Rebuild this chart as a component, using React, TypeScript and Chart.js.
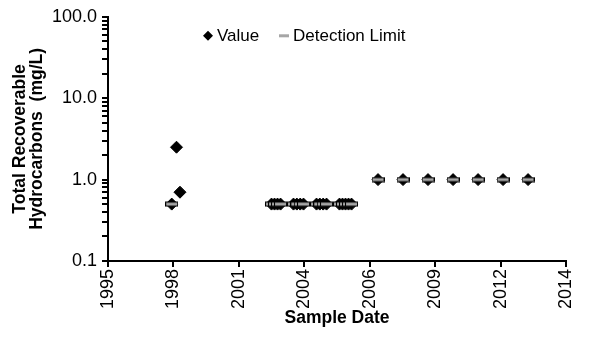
import React, { useEffect, useRef } from 'react';
import { Chart, registerables } from 'chart.js';

Chart.register(...registerables);

// Sample dates as spreadsheet serial day numbers
const valueDates = [
  35974, 36047, 36100,
  37499, 37545, 37591, 37637,
  37835, 37886, 37938, 37988,
  38187, 38237, 38289, 38340,
  38538, 38584, 38630, 38676, 38722,
  39127, 39509, 39891, 40274, 40656, 41038, 41420,
];
const valueMgL = [
  0.5, 2.5, 0.7,
  0.5, 0.5, 0.5, 0.5,
  0.5, 0.5, 0.5, 0.5,
  0.5, 0.5, 0.5, 0.5,
  0.5, 0.5, 0.5, 0.5, 0.5,
  1.0, 1.0, 1.0, 1.0, 1.0, 1.0, 1.0,
];
const detectionDates = [
  35974,
  37499, 37545, 37591, 37637,
  37835, 37886, 37938, 37988,
  38187, 38237, 38289, 38340,
  38538, 38584, 38630, 38676, 38722,
  39127, 39509, 39891, 40274, 40656, 41038, 41420,
];
const detectionMgL = [
  0.5,
  0.5, 0.5, 0.5, 0.5,
  0.5, 0.5, 0.5, 0.5,
  0.5, 0.5, 0.5, 0.5,
  0.5, 0.5, 0.5, 0.5, 0.5,
  1.0, 1.0, 1.0, 1.0, 1.0, 1.0, 1.0,
];
const seriesNames = ['Value', 'Detection Limit'];
const xTickLabels = ['1995', '1998', '2001', '2004', '2006', '2009', '2012', '2014'];
const xMin = 35000;
const xMax = 42000;
const xStep = 1000;
const yTickValues = [0.1, 1, 10, 100];
const yTickLabels = ['0.1', '1.0', '10.0', '100.0'];
const yTitle = ['Total Recoverable', 'Hydrocarbons  (mg/L)'];
const xTitle = 'Sample Date';

const FONT = "'Liberation Sans', Arial, sans-serif";
const GRAY = '#a6a6a6';

function makeDashMarker(): HTMLCanvasElement {
  const c = document.createElement('canvas');
  c.width = 13;
  c.height = 6;
  const g = c.getContext('2d')!;
  g.fillStyle = '#000';
  g.fillRect(0, 0.5, 13, 5);
  g.fillStyle = GRAY;
  g.fillRect(1, 1.5, 11, 3);
  return c;
}

// Outward tick marks at every tick the library's scales generate
const outerTicksPlugin = {
  id: 'outerTicks',
  afterDraw(chart: any) {
    const { ctx, chartArea, scales } = chart;
    ctx.save();
    ctx.strokeStyle = '#000';
    ctx.lineWidth = 2;
    for (const t of scales.y.ticks) {
      const py = Math.round(scales.y.getPixelForValue(t.value));
      ctx.beginPath();
      ctx.moveTo(chartArea.left - 6, py);
      ctx.lineTo(chartArea.left, py);
      ctx.stroke();
    }
    for (const t of scales.x.ticks) {
      const px = Math.round(scales.x.getPixelForValue(t.value));
      ctx.beginPath();
      ctx.moveTo(px, chartArea.bottom);
      ctx.lineTo(px, chartArea.bottom + 6);
      ctx.stroke();
    }
    ctx.restore();
  },
};

const legendPlugin = {
  id: 'insideLegend',
  afterDraw(chart: any) {
    const { ctx, chartArea } = chart;
    const names = chart.data.datasets.map((d: any) => d.label);
    const cy = chartArea.top + 19;
    ctx.save();
    ctx.font = `17px ${FONT}`;
    ctx.textBaseline = 'middle';
    ctx.fillStyle = '#000';
    const dx = chartArea.left + 100;
    ctx.beginPath();
    ctx.moveTo(dx - 5, cy);
    ctx.lineTo(dx, cy - 5);
    ctx.lineTo(dx + 5, cy);
    ctx.lineTo(dx, cy + 5);
    ctx.closePath();
    ctx.fill();
    ctx.fillText(names[0], dx + 9, cy + 1);
    const lx = chartArea.left + 171;
    ctx.fillStyle = GRAY;
    ctx.fillRect(lx, cy - 1.5, 10, 3);
    ctx.fillStyle = '#000';
    ctx.fillText(names[1], lx + 14, cy + 1);
    ctx.restore();
  },
};

export default function App() {
  const ref = useRef<HTMLCanvasElement | null>(null);

  useEffect(() => {
    document.body.style.margin = '0';
    const canvas = ref.current;
    if (!canvas) return;
    const dash = makeDashMarker();
    const chart = new Chart(canvas, {
      type: 'scatter',
      data: {
        datasets: [
          {
            label: seriesNames[0],
            data: valueDates.map((d, i) => ({ x: d, y: valueMgL[i] })),
            pointStyle: 'rectRot',
            radius: 6,
            hoverRadius: 6,
            backgroundColor: '#000',
            borderColor: '#000',
            borderWidth: 1,
            order: 1,
          },
          {
            label: seriesNames[1],
            data: detectionDates.map((d, i) => ({ x: d, y: detectionMgL[i] })),
            pointStyle: dash as any,
            radius: 6,
            backgroundColor: GRAY,
            borderColor: GRAY,
            order: 0,
          },
        ],
      },
      options: {
        responsive: false,
        animation: false,
        devicePixelRatio: 1,
        layout: { padding: { top: 16, right: 34, bottom: 0, left: 0 } },
        plugins: {
          legend: { display: false },
          tooltip: { enabled: false },
        },
        scales: {
          x: {
            type: 'linear',
            min: xMin,
            max: xMax,
            afterFit: (s: any) => {
              s.height = 76;
            },
            border: { display: true, color: '#000', width: 2 },
            grid: {
              drawOnChartArea: false,
              drawTicks: true,
              tickLength: 5,
              tickWidth: 0,
              tickColor: 'rgba(0,0,0,0)',
            },
            ticks: {
              stepSize: xStep,
              autoSkip: false,
              source: 'data',
              minRotation: 90,
              maxRotation: 90,
              padding: 3,
              color: '#000',
              font: { family: FONT, size: 18 },
              callback: (_v: any, i: number) => xTickLabels[i] ?? '',
            },
            title: {
              display: true,
              text: xTitle,
              color: '#000',
              font: { family: FONT, size: 17.5, weight: 'bold', lineHeight: 1 },
              padding: { top: 0, bottom: 10 },
            },
          },
          y: {
            type: 'logarithmic',
            min: 0.1,
            max: 100,
            afterBuildTicks: (s: any) => {
              s.ticks = s.ticks.filter((t: any) => {
                const e = Math.floor(Math.log10(t.value) + 1e-9);
                const m = t.value / Math.pow(10, e);
                return Math.abs(m - Math.round(m)) < 1e-6;
              });
            },
            afterFit: (s: any) => {
              s.width = 108;
            },
            border: { display: true, color: '#000', width: 2 },
            grid: {
              drawOnChartArea: false,
              drawTicks: true,
              tickLength: 5,
              tickWidth: 0,
              tickColor: 'rgba(0,0,0,0)',
            },
            ticks: {
              autoSkip: false,
              source: 'data',
              padding: 6,
              color: '#000',
              font: { family: FONT, size: 18 },
              callback: (v: any) => {
                const n = Number(v);
                const k = yTickValues.findIndex((t) => Math.abs(t - n) / t < 1e-6);
                return k >= 0 ? yTickLabels[k] : '';
              },
            },
            title: {
              display: true,
              text: yTitle,
              color: '#000',
              font: { family: FONT, size: 17.5, weight: 'bold', lineHeight: 1 },
              padding: { top: 11, bottom: 0 },
            },
          },
        },
      },
      plugins: [outerTicksPlugin, legendPlugin],
    });
    return () => chart.destroy();
  }, []);

  return (
    <div style={{ width: 600, height: 337 }}>
      <canvas ref={ref} width={600} height={337} />
    </div>
  );
}
